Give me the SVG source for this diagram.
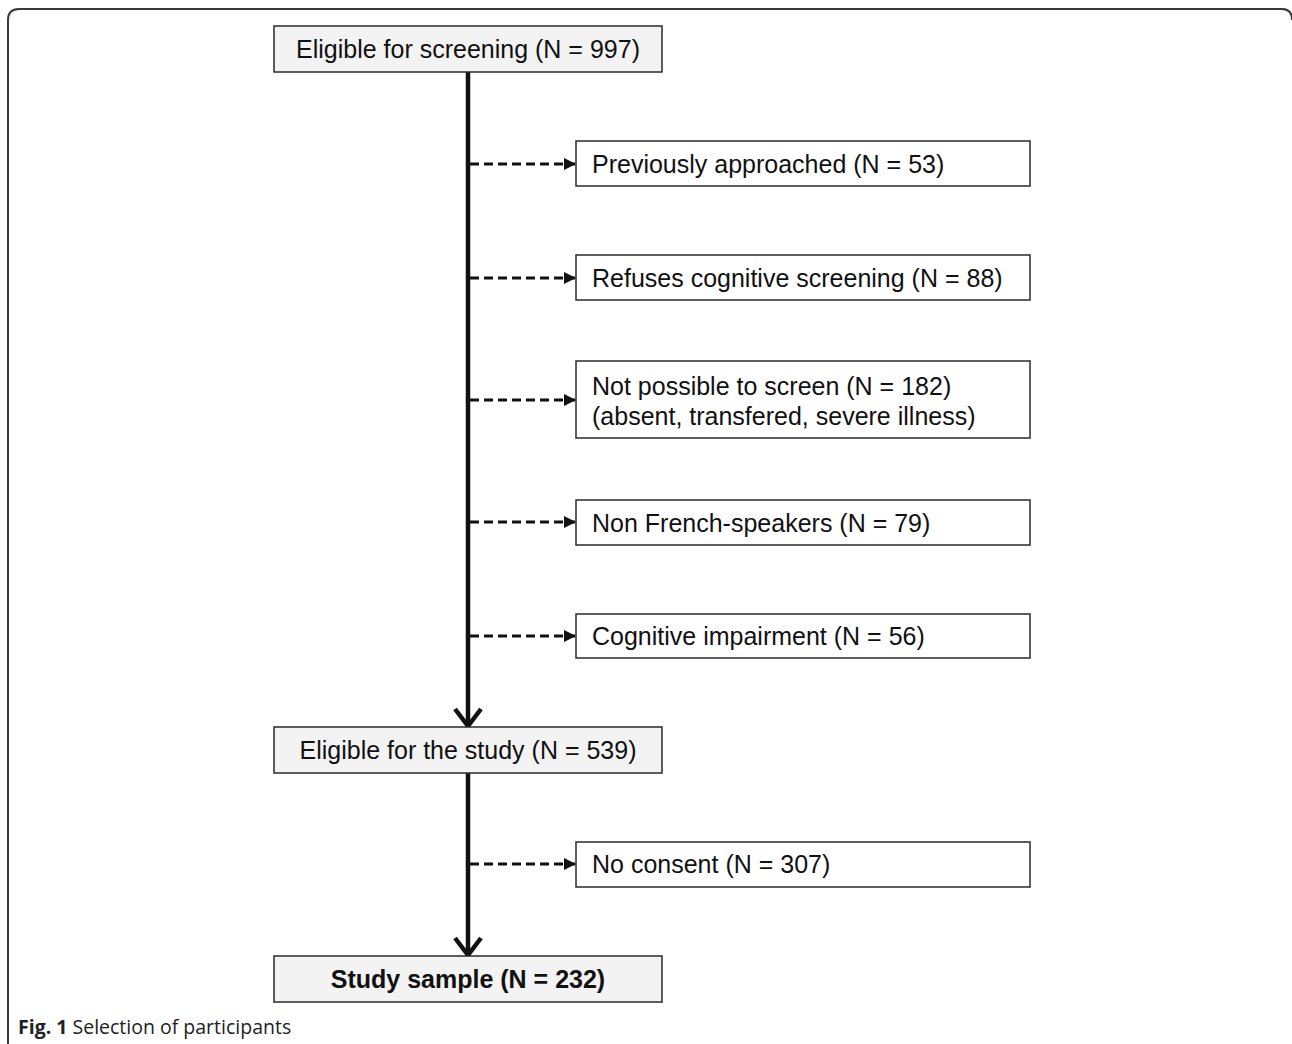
<svg xmlns="http://www.w3.org/2000/svg" width="1292" height="1044" viewBox="0 0 1292 1044">
<style>
.frame{fill:none;stroke:#3a3a3a;stroke-width:2}
.main{fill:#f3f3f3;stroke:#2a2a2a;stroke-width:1.5}
.side{fill:#ffffff;stroke:#2a2a2a;stroke-width:1.5}
.t{font-family:"Liberation Sans",Arial,sans-serif;font-size:25px;fill:#111}
.tc{text-anchor:middle}
.b{font-weight:bold}
.solid{stroke:#111;stroke-width:4.5;fill:none}
.dash{stroke:#111;stroke-width:3;stroke-dasharray:9 5;fill:none}
.cap{font-family:"Open Sans","Liberation Sans",sans-serif;font-size:19.5px;fill:#222}
</style>
<defs>
<marker id="tri" markerWidth="12" markerHeight="12" refX="11" refY="6" orient="auto" markerUnits="userSpaceOnUse">
<path d="M0,0 L12,6 L0,12 Z" fill="#111"/>
</marker>
</defs>
<path class="frame" d="M8,1050 L8,20 Q8,9 19,9 L1282,9 Q1292,9 1292,20"/>
<g id="connectors">
<line class="solid" x1="468" y1="72" x2="468" y2="725"/>
<polyline class="solid" points="455,709 468,726 481,709"/>
<line class="solid" x1="468" y1="773" x2="468" y2="954"/>
<polyline class="solid" points="455,938 468,955 481,938"/>
<line class="dash" x1="470" y1="164" x2="575" y2="164" marker-end="url(#tri)"/>
<line class="dash" x1="470" y1="278" x2="575" y2="278" marker-end="url(#tri)"/>
<line class="dash" x1="470" y1="400" x2="575" y2="400" marker-end="url(#tri)"/>
<line class="dash" x1="470" y1="522" x2="575" y2="522" marker-end="url(#tri)"/>
<line class="dash" x1="470" y1="636" x2="575" y2="636" marker-end="url(#tri)"/>
<line class="dash" x1="470" y1="864" x2="575" y2="864" marker-end="url(#tri)"/>
</g>
<g id="n-screening">
<rect class="main" x="274" y="26" width="388" height="46"/>
<text class="t tc" x="468" y="58">Eligible for screening (N = 997)</text>
</g>
<g id="n-approached">
<rect class="side" x="576" y="141" width="454" height="45"/>
<text class="t" x="592" y="173">Previously approached (N = 53)</text>
</g>
<g id="n-refuses">
<rect class="side" x="576" y="255" width="454" height="45"/>
<text class="t" x="592" y="287">Refuses cognitive screening (N = 88)</text>
</g>
<g id="n-notpossible">
<rect class="side" x="576" y="361" width="454" height="77"/>
<text class="t" x="592" y="395">Not possible to screen (N = 182)</text>
<text class="t" x="592" y="425">(absent, transfered, severe illness)</text>
</g>
<g id="n-nonfrench">
<rect class="side" x="576" y="500" width="454" height="45"/>
<text class="t" x="592" y="532">Non French-speakers (N = 79)</text>
</g>
<g id="n-cognitive">
<rect class="side" x="576" y="614" width="454" height="44"/>
<text class="t" x="592" y="645">Cognitive impairment (N = 56)</text>
</g>
<g id="n-study">
<rect class="main" x="274" y="727" width="388" height="46"/>
<text class="t tc" x="468" y="759">Eligible for the study (N = 539)</text>
</g>
<g id="n-noconsent">
<rect class="side" x="576" y="842" width="454" height="45"/>
<text class="t" x="592" y="873">No consent (N = 307)</text>
</g>
<g id="n-sample">
<rect class="main" x="274" y="956" width="388" height="46"/>
<text class="t tc b" x="468" y="988">Study sample (N = 232)</text>
</g>
<text class="cap" x="18" y="1034"><tspan font-weight="bold">Fig. 1</tspan> Selection of participants</text>
</svg>
